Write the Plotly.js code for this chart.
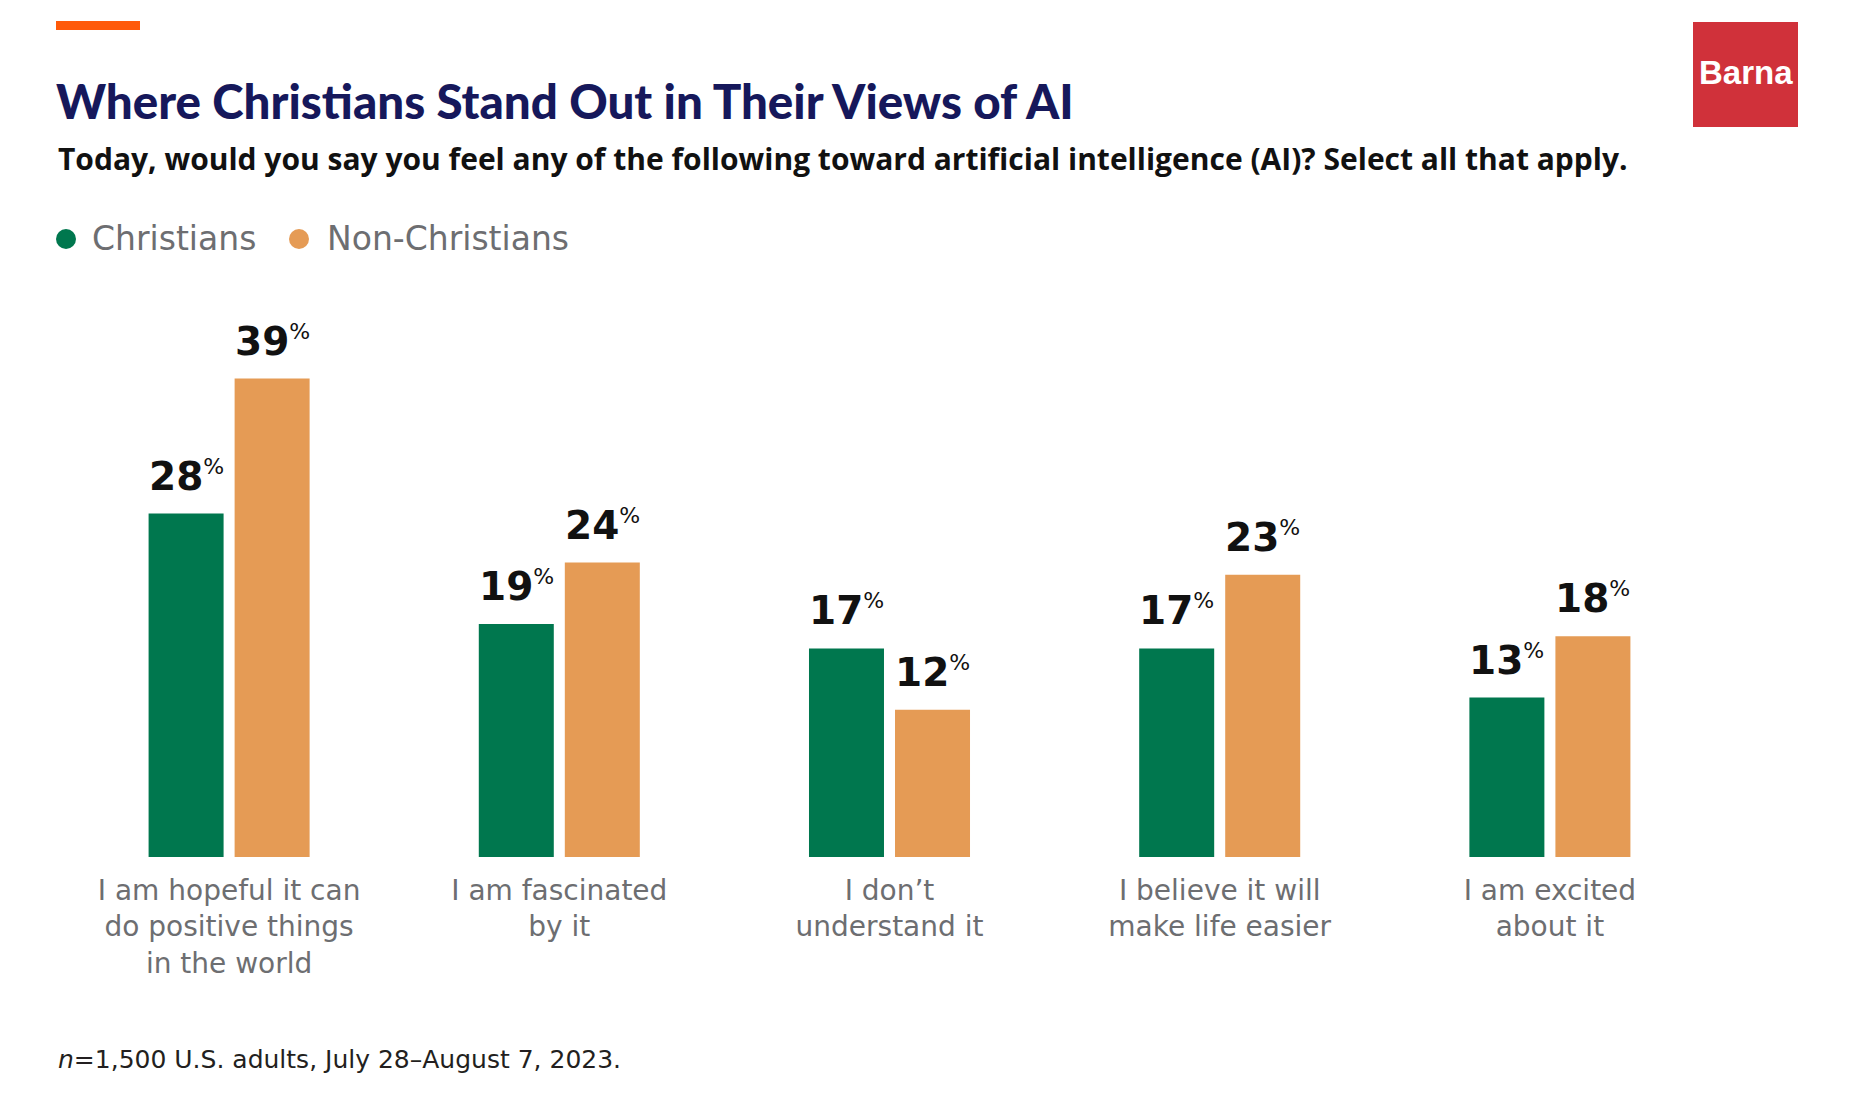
<!DOCTYPE html>
<html>
<head>
<meta charset="utf-8">
<script src="https://cdn.plot.ly/plotly-3.0.1.min.js"></script>
<style>html,body{margin:0;padding:0;background:#fff;}#chart{width:1875px;height:1117px;}</style>
</head>
<body>
<div id="chart"></div>
<script>
// ---- data ----
const categories = [
  "I am hopeful it can do positive things in the world",
  "I am fascinated by it",
  "I don’t understand it",
  "I believe it will make life easier",
  "I am excited about it"
];
const tickLabels = [
  "I am hopeful it can<br>do positive things<br>in the world",
  "I am fascinated<br>by it",
  "I don’t<br>understand it",
  "I believe it will<br>make life easier",
  "I am excited<br>about it"
];
const seriesNames = ["Christians", "Non-Christians"];
const christians = [28, 19, 17, 17, 13];
const nonChristians = [39, 24, 12, 23, 18];

const titleText = "Where Christians Stand Out in Their Views of AI";
const subtitleText = "Today, would you say you feel any of the following toward artificial intelligence (AI)? Select all that apply.";
const noteText = "<i>n</i>=1,500 U.S. adults, July 28–August 7, 2023.";
const logoText = "Barna";

// ---- styling ----
const COLORS = ["#00774e", "#e59b55"];
const W = 1875, H = 1117;
const M = {l: 64, r: 160, t: 305, b: 260};
const PW = W - M.l - M.r, PH = H - M.t - M.b;
const px2x = px => (px - M.l) / PW;
const px2y = py => (H - M.b - py) / PH;

const seriesValues = [christians, nonChristians];
const traces = seriesValues.map((vals, s) => ({
  type: "bar", name: seriesNames[s], x: categories, y: vals,
  marker: {color: COLORS[s]}, showlegend: false, hoverinfo: "skip"
}));

const labelFont = {family: "DejaVu Sans", size: 39, weight: 700, color: "#111111"};
const annotations = [];
seriesValues.forEach((vals, s) => {
  vals.forEach((v, i) => {
    annotations.push({
      x: categories[i], y: v, xref: "x", yref: "y",
      xshift: s === 0 ? -43 : 43, yshift: 13,
      yanchor: "bottom", xanchor: "center", showarrow: false,
      text: v + '<sup><span style="font-size:22px;font-weight:400">%</span></sup>',
      font: labelFont
    });
  });
});

// legend (circle + text)
const legendCircleX = [66, 299], legendTextX = [90, 325], legendY = 239, legendR = 10;
const shapes = [];
seriesNames.forEach((nm, s) => {
  shapes.push({type: "circle", xref: "paper", yref: "paper",
    x0: px2x(legendCircleX[s] - legendR), x1: px2x(legendCircleX[s] + legendR),
    y0: px2y(legendY + legendR), y1: px2y(legendY - legendR),
    fillcolor: COLORS[s], line: {width: 0}});
  annotations.push({xref: "paper", yref: "paper", x: px2x(legendTextX[s]), y: px2y(legendY),
    xanchor: "left", yanchor: "middle", showarrow: false, text: nm,
    font: {family: "DejaVu Sans", size: 33, color: "#6d6e71"}});
});

annotations.push({
  xref: "paper", yref: "paper", x: px2x(56), y: px2y(158), xanchor: "left", yanchor: "middle",
  showarrow: false, text: subtitleText,
  font: {family: "Open Sans", size: 30, weight: 700, color: "#111111"}
});
annotations.push({
  xref: "paper", yref: "paper", x: px2x(56), y: px2y(1059), xanchor: "left", yanchor: "middle",
  showarrow: false, text: noteText,
  font: {family: "DejaVu Sans", size: 25, weight: 400, color: "#231f20"}
});
annotations.push({
  xref: "paper", yref: "paper", x: px2x(1745.5), y: px2y(73), xanchor: "center", yanchor: "middle",
  showarrow: false, text: logoText,
  font: {family: "Liberation Sans", size: 33, weight: 700, color: "#ffffff"}
});

shapes.push(
  {type: "rect", xref: "paper", yref: "paper", x0: px2x(56), x1: px2x(140), y0: px2y(30), y1: px2y(21), fillcolor: "#ff5a0a", line: {width: 0}},
  {type: "rect", xref: "paper", yref: "paper", x0: px2x(1693), x1: px2x(1798), y0: px2y(127), y1: px2y(22), fillcolor: "#d0313a", line: {width: 0}}
);

const layout = {
  width: W, height: H,
  margin: M,
  paper_bgcolor: "#ffffff", plot_bgcolor: "#ffffff",
  title: {
    text: titleText, xref: "container", yref: "container",
    x: 56 / W, xanchor: "left", y: 1 - 102 / H, yanchor: "middle",
    font: {family: "Lato", size: 47.5, weight: 900, color: "#16185b"}
  },
  barmode: "group", bargap: 0.479, bargroupgap: 0.128,
  xaxis: {
    type: "category", tickvals: categories, ticktext: tickLabels,
    range: [-0.5, 4.5], showgrid: false, showline: false, zeroline: false, ticks: "",
    tickfont: {family: "DejaVu Sans", size: 28, color: "#6d6e71"}, ticklabelstandoff: 14, fixedrange: true
  },
  yaxis: {range: [0, 45], visible: false, showgrid: false, zeroline: false, fixedrange: true},
  showlegend: false,
  annotations: annotations,
  shapes: shapes
};

Plotly.newPlot("chart", traces, layout, {displayModeBar: false, staticPlot: true});
</script>
</body>
</html>
